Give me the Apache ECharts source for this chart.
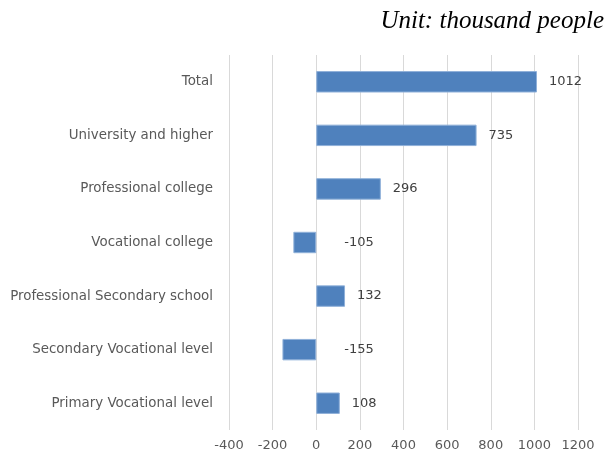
<!DOCTYPE html>
<html><head><meta charset="utf-8">
<script src="https://cdn.jsdelivr.net/npm/echarts@6/dist/echarts.min.js"></script>
<style>html,body{margin:0;padding:0;background:#fff}#c{width:609px;height:453px}</style>
</head><body><div id="c"></div>
<script>
const categories = ["Total","University and higher","Professional college","Vocational college","Professional Secondary school","Secondary Vocational level","Primary Vocational level"];
const values = [1012, 735, 296, -105, 132, -155, 108];
const xTicks = {min: -400, max: 1200, interval: 200};
const unitText = "Unit: thousand people";

const chart = echarts.init(document.getElementById('c'));
chart.setOption({
  animation: false,
  backgroundColor: '#fff',
  title: {
    text: unitText, right: 0, top: 4,
    textStyle: {fontFamily: 'Liberation Serif', fontStyle: 'italic', fontWeight: 'normal', fontSize: 25, color: '#000'}
  },
  grid: {left: 229, right: 31, top: 55, bottom: 23, containLabel: false},
  xAxis: {
    type: 'value', min: xTicks.min, max: xTicks.max, interval: xTicks.interval,
    axisLine: {show: false}, axisTick: {show: false},
    splitLine: {show: true, lineStyle: {color: '#d9d9d9', width: 1}},
    axisLabel: {color: '#595959', fontSize: 13, fontFamily: 'DejaVu Sans', margin: 9, formatter: v => String(v)}
  },
  yAxis: {
    type: 'category', data: categories, inverse: true,
    axisLine: {show: false}, axisTick: {show: false},
    axisLabel: {color: '#595959', fontSize: 13.4, fontFamily: 'DejaVu Sans', margin: 16}
  },
  series: [{
    type: 'bar',
    data: values.map(v => ({value: v, label: {distance: v < 0 ? 28 : 12}})),
    barCategoryGap: '60%',
    itemStyle: {color: '#4f81bd', borderColor: '#8fb0d9', borderWidth: 1},
    label: {show: true, position: 'right', color: '#404040', fontSize: 13, fontFamily: 'DejaVu Sans'}
  }]
});
</script>
</body></html>
